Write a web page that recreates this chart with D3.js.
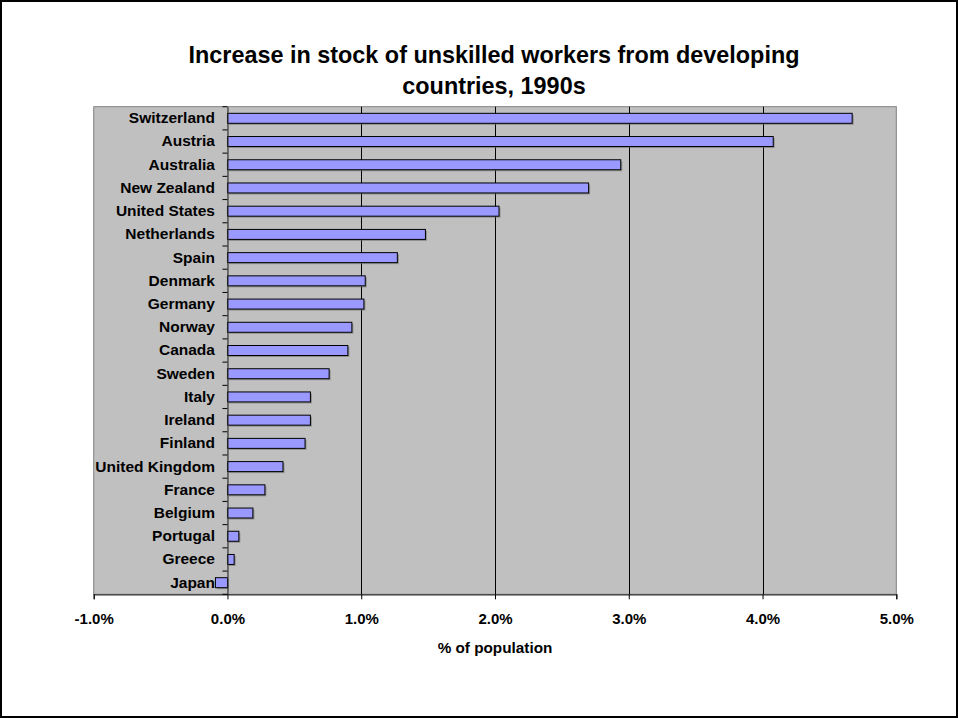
<!DOCTYPE html>
<html>
<head>
<meta charset="utf-8">
<script src="https://cdn.jsdelivr.net/npm/d3@7"></script>
<style>
  html, body { margin: 0; padding: 0; background: #fff; }
  svg { display: block; }
  text { font-family: "Liberation Sans", Arial, sans-serif; font-weight: bold; fill: #000; }
</style>
</head>
<body>
<script>
const titleLines = ["Increase in stock of unskilled workers from developing", "countries, 1990s"];
const xAxisTitle = "% of population";
const categories = ["Switzerland","Austria","Australia","New Zealand","United States","Netherlands","Spain","Denmark","Germany","Norway","Canada","Sweden","Italy","Ireland","Finland","United Kingdom","France","Belgium","Portugal","Greece","Japan"];
const values = [4.67, 4.08, 2.94, 2.70, 2.03, 1.48, 1.27, 1.03, 1.02, 0.93, 0.90, 0.76, 0.62, 0.62, 0.58, 0.415, 0.28, 0.19, 0.085, 0.05, -0.09];
const xTicks = [-1, 0, 1, 2, 3, 4, 5];
const xTickLabels = ["-1.0%", "0.0%", "1.0%", "2.0%", "3.0%", "4.0%", "5.0%"];

const W = 958, H = 718;
const plot = { left: 93.7, right: 896.3, top: 106.7, bottom: 594.3 };

const svg = d3.select("body").append("svg").attr("width", W).attr("height", H);

// outer frame
svg.append("rect").attr("x", 1).attr("y", 1).attr("width", W - 2).attr("height", H - 2)
  .attr("fill", "#fff").attr("stroke", "#000").attr("stroke-width", 2);

const x = d3.scaleLinear().domain([-1, 5]).range([plot.left, plot.right]);
const y = d3.scaleBand().domain(categories).range([plot.top, plot.bottom])
  .paddingInner(0.57).paddingOuter(0.285);

// plot background
svg.append("rect").attr("x", plot.left).attr("y", plot.top)
  .attr("width", plot.right - plot.left).attr("height", plot.bottom - plot.top)
  .attr("fill", "#C0C0C0").attr("stroke", "#808080").attr("stroke-width", 1);

// gridlines
svg.append("g").selectAll("line").data(xTicks.filter(d => d > 0 && d < 5)).join("line")
  .attr("x1", d => Math.round(x(d)) + 0.5).attr("x2", d => Math.round(x(d)) + 0.5)
  .attr("y1", plot.top).attr("y2", plot.bottom)
  .attr("stroke", "#000").attr("stroke-width", 1);

// bars shadows
const data = categories.map((c, i) => ({ c, v: values[i] }));
svg.append("g").selectAll("rect").data(data).join("rect")
  .attr("x", d => Math.min(x(0), x(d.v)) + 1.5)
  .attr("y", d => y(d.c) + 1.5)
  .attr("width", d => Math.abs(x(d.v) - x(0)))
  .attr("height", y.bandwidth())
  .attr("fill", "#6a6a6a").attr("opacity", 0.6);

// bars
svg.append("g").selectAll("rect").data(data).join("rect")
  .attr("x", d => Math.min(x(0), x(d.v)))
  .attr("y", d => y(d.c))
  .attr("width", d => Math.abs(x(d.v) - x(0)))
  .attr("height", y.bandwidth())
  .attr("fill", "#9999FF").attr("stroke", "#000").attr("stroke-width", 1);

// x axis
const xAxis = d3.axisBottom(x).tickValues(xTicks).tickSize(5).tickPadding(14)
  .tickFormat((d, i) => xTickLabels[i]);
const gx = svg.append("g").attr("transform", `translate(0,${plot.bottom})`).call(xAxis);
gx.select(".domain").attr("stroke", "#333").attr("stroke-width", 1.2);
gx.selectAll(".tick line").attr("stroke", "#000");
gx.selectAll(".tick text").attr("font-size", "15px").attr("font-family", "Liberation Sans, Arial, sans-serif").attr("font-weight", "bold").attr("fill", "#000");

// y axis at 0
const yAxis = d3.axisLeft(y).tickSize(0).tickPadding(12.5);
const gy = svg.append("g").attr("transform", `translate(${x(0)},0)`).call(yAxis);
gy.select(".domain").attr("stroke", "#333").attr("stroke-width", 1.2);
gy.selectAll(".tick text").attr("font-size", "15.5px").attr("font-family", "Liberation Sans, Arial, sans-serif").attr("font-weight", "bold").attr("fill", "#000");

// y category boundary ticks
const step = y.step();
const boundaries = categories.map(c => y(c) - y.paddingInner() * step / 2);
boundaries.push(plot.bottom);
svg.append("g").selectAll("line").data(boundaries).join("line")
  .attr("x1", x(0) - 5).attr("x2", x(0))
  .attr("y1", d => d).attr("y2", d => d)
  .attr("stroke", "#000").attr("stroke-width", 1);

// title
svg.append("g").selectAll("text").data(titleLines).join("text")
  .attr("x", 494).attr("y", (d, i) => 63 + i * 30.5)
  .attr("text-anchor", "middle").attr("font-size", "23.4px")
  .text(d => d);

// x axis title
svg.append("text").attr("x", 495).attr("y", 653)
  .attr("text-anchor", "middle").attr("font-size", "15.3px").text(xAxisTitle);
</script>
</body>
</html>
